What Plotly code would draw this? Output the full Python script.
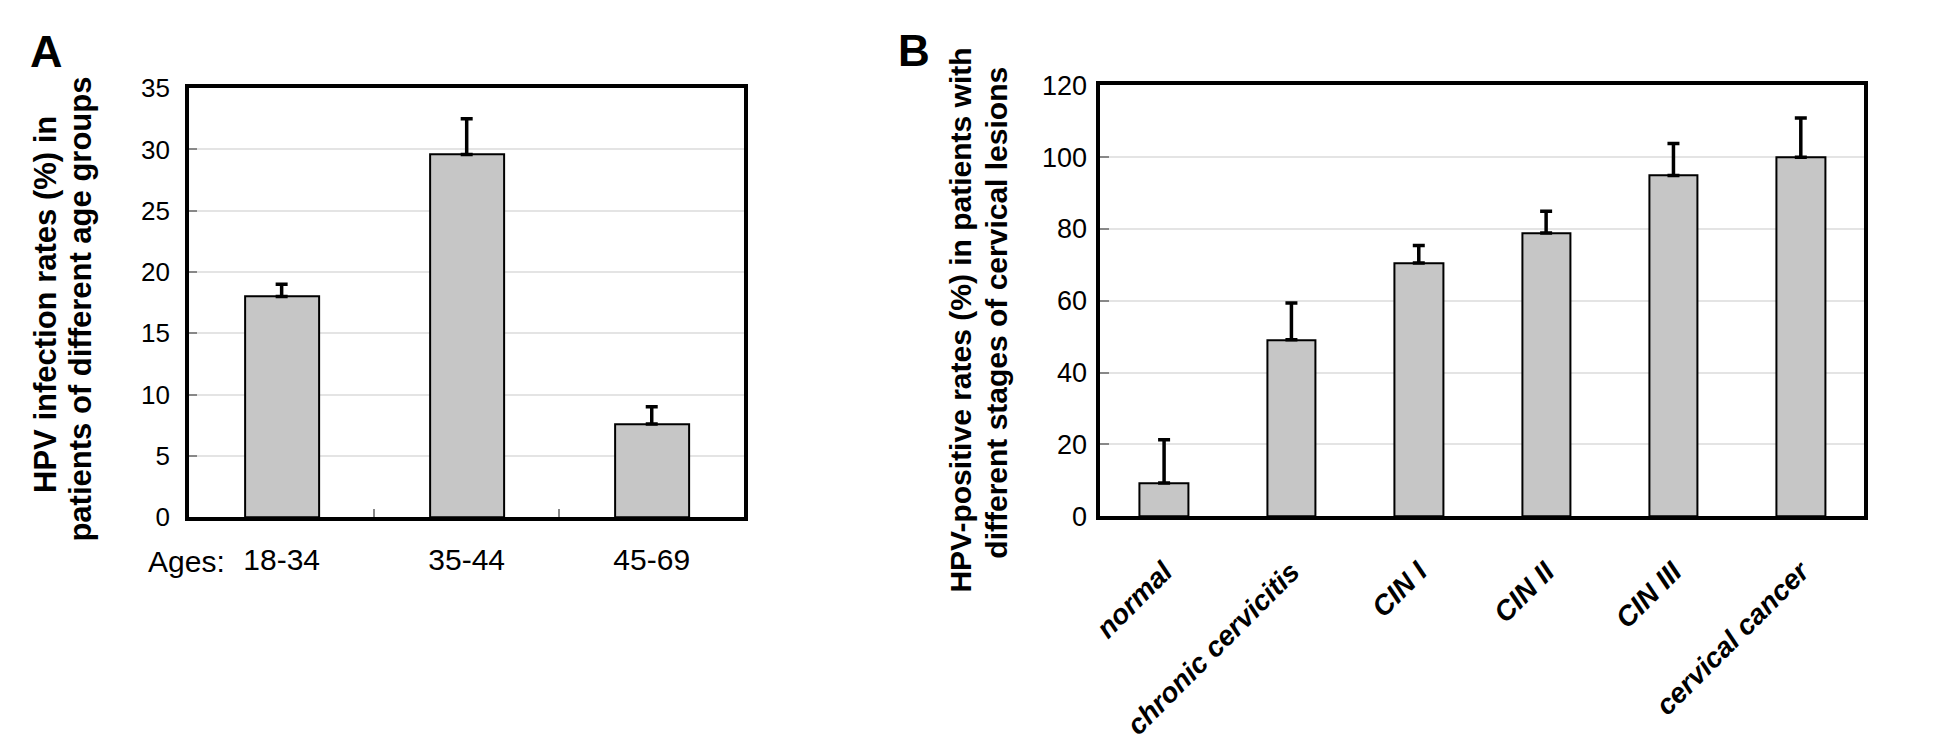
import plotly.graph_objects as go

# ---- data ----
age_groups = ["18-34", "35-44", "45-69"]
age_rates = [18.0, 29.6, 7.6]
age_err = [1.0, 2.9, 1.4]

stages = ["normal", "chronic cervicitis", "CIN I", "CIN II", "CIN III", "cervical cancer"]
stage_rates = [9.2, 49.1, 70.5, 78.9, 94.9, 100.0]
stage_err = [12.1, 10.3, 4.9, 6.0, 8.9, 10.9]

W, H = 1949, 739
FONT = "Liberation Sans, Arial, sans-serif"
BAR_FILL = "#c6c6c6"

def px(x):
    return x / W

def py(y):
    return 1 - y / H

fig = go.Figure()

fig.add_trace(go.Bar(
    x=list(range(len(age_groups))), y=age_rates, width=0.40,
    marker=dict(color=BAR_FILL, line=dict(color="black", width=2)),
    error_y=dict(type="data", array=age_err, arrayminus=[0] * len(age_err),
                 symmetric=False, color="black", thickness=3.5, width=6),
    xaxis="x", yaxis="y", showlegend=False,
))
fig.add_trace(go.Bar(
    x=list(range(len(stages))), y=stage_rates, width=0.38,
    marker=dict(color=BAR_FILL, line=dict(color="black", width=2)),
    error_y=dict(type="data", array=stage_err, arrayminus=[0] * len(stage_err),
                 symmetric=False, color="black", thickness=3.5, width=6),
    xaxis="x2", yaxis="y2", showlegend=False,
))

axis_common = dict(showline=True, linecolor="black", linewidth=4, mirror=True,
                   zeroline=False)

fig.update_layout(
    width=W, height=H,
    margin=dict(l=0, r=0, t=0, b=0),
    paper_bgcolor="white", plot_bgcolor="white",
    font=dict(family=FONT, color="black"),
    bargap=0,
    xaxis=dict(domain=[px(172), px(730)], range=[-0.5, 2.5],
               tickmode="array", tickvals=list(range(len(age_groups))),
               ticktext=age_groups, ticks="", showgrid=False,
               tickfont=dict(size=30, family=FONT), ticklabelstandoff=13,
               minor=dict(tickmode="array", tickvals=[0.5, 1.5], ticks="inside",
                          ticklen=8, tickwidth=1.5, tickcolor="#888888", showgrid=False),
               anchor="y", **axis_common),
    yaxis=dict(domain=[py(515), py(68)], range=[0, 35], dtick=5,
               ticks="inside", ticklen=8, tickwidth=1.5, tickcolor="#888888",
               showgrid=True, gridcolor="#e4e4e4", gridwidth=1.5,
               tickfont=dict(size=26, family=FONT), ticklabelstandoff=10,
               anchor="x", **axis_common),
    xaxis2=dict(domain=[px(1088), px(1856)], range=[-0.5, 5.5],
                tickmode="array", tickvals=list(range(len(stages))),
                ticktext=stages, ticks="", showgrid=False, tickangle=-45,
                tickfont=dict(size=28, family=FONT, weight="bold", style="italic"),
                ticklabelstandoff=24,
                anchor="y2", **axis_common),
    yaxis2=dict(domain=[py(514), py(65)], range=[0, 120], dtick=20,
                ticks="inside", ticklen=9, tickwidth=1.5, tickcolor="#888888",
                showgrid=True, gridcolor="#e4e4e4", gridwidth=1.5,
                tickfont=dict(size=27, family=FONT), ticklabelstandoff=4,
                anchor="x2", **axis_common),
)

ann = []
# panel letters
ann.append(dict(text="A", x=px(29), y=py(30), xref="paper", yref="paper",
                showarrow=False, xanchor="center", yanchor="middle",
                font=dict(size=45, family=FONT, weight="bold")))
ann.append(dict(text="B", x=px(901), y=py(29), xref="paper", yref="paper",
                showarrow=False, xanchor="center", yanchor="middle",
                font=dict(size=44, family=FONT, weight="bold")))
# axis titles (two lines each)
ann.append(dict(text="HPV infection rates (%) in", x=px(27), y=py(293),
                xref="paper", yref="paper", showarrow=False, textangle=-90,
                xanchor="center", yanchor="middle",
                font=dict(size=31, family=FONT, weight="bold")))
ann.append(dict(text="patients of different age groups", x=px(63), y=py(298),
                xref="paper", yref="paper", showarrow=False, textangle=-90,
                xanchor="center", yanchor="middle",
                font=dict(size=31, family=FONT, weight="bold")))
ann.append(dict(text="HPV-positive rates (%) in patients with", x=px(947), y=py(310),
                xref="paper", yref="paper", showarrow=False, textangle=-90,
                xanchor="center", yanchor="middle",
                font=dict(size=30, family=FONT, weight="bold")))
ann.append(dict(text="different stages of cervical lesions", x=px(984), y=py(302),
                xref="paper", yref="paper", showarrow=False, textangle=-90,
                xanchor="center", yanchor="middle",
                font=dict(size=30, family=FONT, weight="bold")))
# "Ages:" prefix for the x labels of panel A
ann.append(dict(text="Ages:", x=px(210), y=py(561), xref="paper", yref="paper",
                showarrow=False, xanchor="right", yanchor="middle",
                font=dict(size=30, family=FONT)))
fig.update_layout(annotations=ann)

fig.write_html("out.html")
